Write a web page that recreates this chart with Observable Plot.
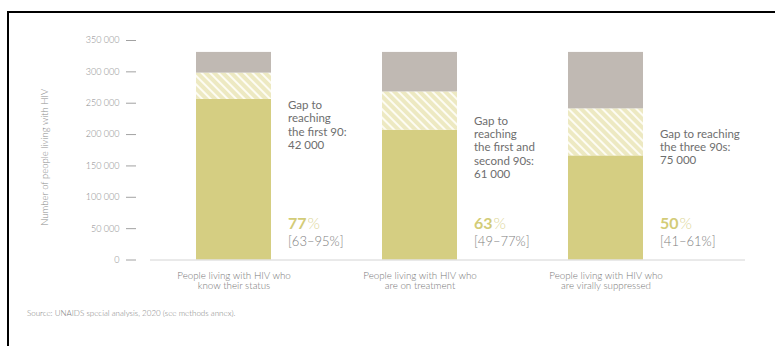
<!DOCTYPE html>
<html><head><meta charset="utf-8">
<script src="https://cdn.jsdelivr.net/npm/d3@7"></script>
<script src="https://cdn.jsdelivr.net/npm/@observablehq/plot@0.6"></script>
<style>
body{margin:0;background:#fff;font-family:Lato, "Open Sans", sans-serif;}
#wrap{position:relative;width:775px;height:346px;overflow:hidden;}
#frame{position:absolute;left:7px;top:11px;right:0;bottom:0;border-top:2px solid #000;border-left:2px solid #000;}
#chart{position:absolute;left:0;top:0;}
#source{position:absolute;left:27px;top:308px;font-size:8px;font-weight:300;color:#7d7d7d;white-space:nowrap;}
</style></head><body>
<div id="wrap"><div id="frame"></div><div id="chart"></div><div id="source">Source: UNAIDS special analysis, 2020 (see methods annex).</div></div>
<script>
const categories = ["People living with HIV who\nknow their status", "People living with HIV who\nare on treatment", "People living with HIV who\nare virally suppressed"];
const totalPLHIV = [331000, 331000, 331000];
const achieved = [256000, 207000, 166000];
const target90 = [298000, 268000, 241000];
const gapLabels = ["Gap to\nreaching\nthe first 90:\n42 000", "Gap to\nreaching\nthe first and\nsecond 90s:\n61 000", "Gap to reaching\nthe three 90s:\n75 000"];
const pctValues = ["77", "63", "50"];
const pctRanges = ["[63–95%]", "[49–77%]", "[41–61%]"];
const yTicks = [0, 50000, 100000, 150000, 200000, 250000, 300000, 350000];
const yTitle = "Number of people living with HIV";

const segments = [];
categories.forEach((c, i) => {
  segments.push({cat: c, part: "achieved", y1: 0, y2: achieved[i]});
  segments.push({cat: c, part: "gap", y1: achieved[i], y2: target90[i]});
  segments.push({cat: c, part: "rest", y1: target90[i], y2: totalPLHIV[i]});
});
const labels = categories.map((c, i) => ({cat: c, gap: gapLabels[i], pct: pctValues[i], range: pctRanges[i]}));
const gapLabelAnchor = [256000, 231000, 210000];

const fmt = d => d3.format(",")(d).replace(/,/g, " ");

const defs = () => {
  const d = d3.create("svg:defs");
  const p = d.append("pattern").attr("id", "hatch").attr("patternUnits", "userSpaceOnUse")
    .attr("width", 6).attr("height", 6).attr("patternTransform", "rotate(-45)");
  p.append("rect").attr("width", 6).attr("height", 6).attr("fill", "#ede9c2");
  p.append("line").attr("x1", 1).attr("x2", 1).attr("y1", 0).attr("y2", 6).attr("stroke", "#fdfcf3").attr("stroke-width", 2);
  return d.node();
};

const colors = {achieved: "#d5ce82", gap: "url(#hatch)", rest: "#c0b9b3"};

const chart = Plot.plot({
  width: 775,
  height: 300,
  marginLeft: 150,
  marginRight: 30,
  marginTop: 40,
  marginBottom: 40.5,
  style: {fontFamily: "Lato, 'Open Sans', sans-serif", background: "transparent"},
  x: {domain: categories, range: [150, 688], paddingInner: 0.598, paddingOuter: 0.241, axis: null},
  y: {domain: [0, 350000], axis: null},
  marks: [
    defs,
    Plot.rectY(segments, {x: "cat", y1: "y1", y2: "y2", fill: d => colors[d.part], inset: 0}),
    Plot.ruleY([0], {stroke: "#d4d4d4", strokeWidth: 1}),
    Plot.axisY({ticks: yTicks, tickFormat: fmt, tickSize: 10, tickPadding: 7, dx: -14, fontSize: 9, fontWeight: 300, color: "#8a8a8a", strokeWidth: 0.8, label: null}),
    Plot.text([yTitle], {frameAnchor: "left", textAnchor: "middle", rotate: -90, dx: -106, dy: 7, fontSize: 9.5, fontWeight: 300, fill: "#8a8a8a"}),
    Plot.text(categories, {x: d => d, y: () => 0, dy: 11, lineAnchor: "top", lineHeight: 1.08, fontSize: 9.8, fontWeight: 300, fill: "#777"}),
    Plot.text(labels, {x: "cat", y: (d, i) => gapLabelAnchor[i], text: "gap", dx: 54, textAnchor: "start", lineAnchor: "top", lineHeight: 1.16, fontSize: 11.5, fill: "#6e6e6e"}),
    Plot.text(labels, {x: "cat", y: () => 58000, text: "pct", dx: 54, textAnchor: "start", fontSize: 16, fontWeight: "bold", fill: "#d3cc78"}),
    Plot.text(labels, {x: "cat", y: () => 58000, text: () => "%", dx: 73.5, textAnchor: "start", fontSize: 16, fontWeight: 300, fill: "#dcd698"}),
    Plot.text(labels, {x: "cat", y: () => 28700, text: "range", dx: 54, textAnchor: "start", fontSize: 13, fontWeight: 300, fill: "#7e7e7e"})
  ]
});
document.getElementById("chart").append(chart);
</script>
</body></html>
